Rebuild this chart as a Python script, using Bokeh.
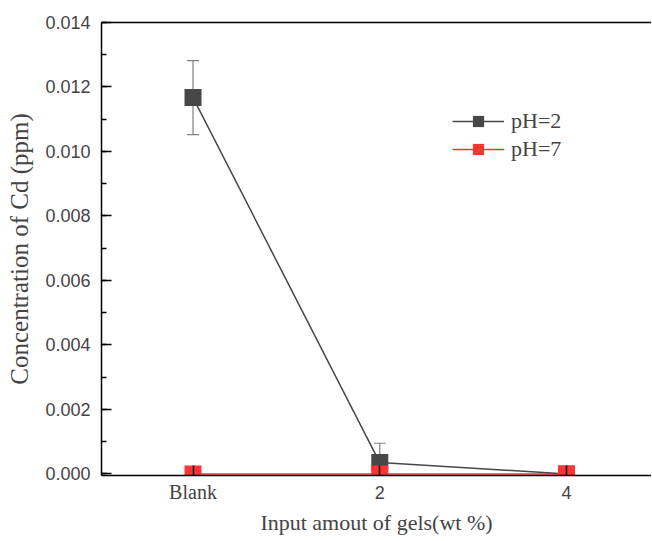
from bokeh.plotting import figure
from bokeh.models import (ColumnDataSource, Whisker, TeeHead, LinearAxis, FixedTicker,
                          SingleIntervalTicker, Range1d, Legend, LegendItem,
                          CustomJSTickFormatter)
from bokeh.embed import file_html
from bokeh.resources import INLINE

categories = ["Blank", "2", "4"]
x_pos = [0, 1, 2]
ph2_values = [0.01167, 0.00035, 0.0]
ph2_err = [0.00115, 0.0006, 0.00002]
ph7_values = [0.0, 0.0, 0.0]
ph7_err = [0.00003, 0.00003, 0.00003]

serif = "Liberation Serif"
sans = "Liberation Sans"

p = figure(width=651, height=540, output_backend="svg", toolbar_location=None,
           x_range=Range1d(-0.49, 2.455), y_range=Range1d(-0.00005, 0.014),
           min_border_left=101, min_border_right=0, min_border_top=22, min_border_bottom=65,
           x_axis_type=None, y_axis_type=None)
p.outline_line_color = None
p.xgrid.visible = False
p.ygrid.visible = False
p.background_fill_color = "white"
p.border_fill_color = "white"

# main x axis: line, inward ticks, numeric labels in sans
xaxis = LinearAxis(ticker=FixedTicker(ticks=x_pos),
                   major_label_overrides={0: "", 1: categories[1], 2: categories[2]})
xaxis.major_label_text_font = sans
xaxis.major_label_text_font_size = "18px"
xaxis.major_label_standoff = 10
xaxis.major_tick_in = 10
xaxis.major_tick_out = 0
xaxis.minor_tick_line_color = None
xaxis.axis_line_width = 1.5
xaxis.major_tick_line_width = 1.5
p.add_layout(xaxis, "below")

# second x axis carrying the serif "Blank" label and the axis title
xaxis2 = LinearAxis(ticker=FixedTicker(ticks=[x_pos[0]]),
                    major_label_overrides={0: categories[0]})
xaxis2.axis_line_color = None
xaxis2.major_tick_line_color = None
xaxis2.minor_tick_line_color = None
xaxis2.major_tick_in = 0
xaxis2.major_tick_out = 0
xaxis2.major_label_text_font = serif
xaxis2.major_label_text_font_size = "20px"
xaxis2.major_label_standoff = -21
xaxis2.axis_label = "Input amout of gels(wt %)"
xaxis2.axis_label_text_font = serif
xaxis2.axis_label_text_font_style = "normal"
xaxis2.axis_label_text_font_size = "22px"
xaxis2.axis_label_standoff = 4
p.add_layout(xaxis2, "below")

yaxis = LinearAxis(ticker=SingleIntervalTicker(interval=0.002, num_minor_ticks=2))
yaxis.axis_label = "Concentration of Cd (ppm)"
yaxis.axis_label_text_font = serif
yaxis.axis_label_text_font_style = "normal"
yaxis.axis_label_text_font_size = "25px"
yaxis.axis_label_standoff = 9
yaxis.major_label_text_font = sans
yaxis.major_label_text_font_size = "18px"
yaxis.major_label_standoff = 11
yaxis.major_tick_in = 10
yaxis.major_tick_out = 0
yaxis.minor_tick_in = 5
yaxis.minor_tick_out = 0
yaxis.axis_line_width = 1.5
yaxis.major_tick_line_width = 1.5
yaxis.minor_tick_line_width = 1.5
yaxis.formatter = CustomJSTickFormatter(code="return tick.toFixed(3);")
p.add_layout(yaxis, "left")

top = LinearAxis(ticker=FixedTicker(ticks=[]), major_tick_line_color=None,
                 minor_tick_line_color=None, axis_line_width=1.5)
p.add_layout(top, "above")

# data sources
src2 = ColumnDataSource(dict(x=x_pos, y=ph2_values,
                             upper=[v + e for v, e in zip(ph2_values, ph2_err)],
                             lower=[v - e for v, e in zip(ph2_values, ph2_err)]))
src7 = ColumnDataSource(dict(x=x_pos, y=ph7_values,
                             upper=[v + e for v, e in zip(ph7_values, ph7_err)],
                             lower=[v - e for v, e in zip(ph7_values, ph7_err)]))

c2 = "#474747"
c7 = "#ff3333"

w2 = Whisker(source=src2, base="x", upper="upper", lower="lower",
             line_color="#808080", line_width=1.2, level="underlay",
             upper_head=TeeHead(size=12, line_color="#808080", line_width=1.2),
             lower_head=TeeHead(size=12, line_color="#808080", line_width=1.2))
p.add_layout(w2)

l7 = p.line("x", "y", source=src7, line_color=c7, line_width=1.5)
l2 = p.line("x", "y", source=src2, line_color=c2, line_width=1.5)
m2 = p.scatter("x", "y", source=src2, marker="square", size=17, fill_color=c2, line_color=None)
m7 = p.scatter("x", "y", source=src7, marker="square", size=17, fill_color=c7, line_color=None)

w7 = Whisker(source=src7, base="x", upper="upper", lower="lower",
             line_color="black", line_width=1,
             upper_head=TeeHead(size=8, line_color="black", line_width=1),
             lower_head=TeeHead(size=8, line_color="black", line_width=1))
p.add_layout(w7)

legend = Legend(items=[LegendItem(label="pH=2", renderers=[l2, m2]),
                       LegendItem(label="pH=7", renderers=[l7, m7])],
                location=(351, 312))
legend.label_text_font = serif
legend.label_text_font_size = "22px"
legend.glyph_width = 52
legend.glyph_height = 28
legend.label_height = 28
legend.spacing = 0
legend.padding = 0
legend.margin = 0
legend.label_standoff = 7
legend.border_line_color = None
legend.background_fill_alpha = 0
p.add_layout(legend)

open("out.html", "w").write(file_html(p, INLINE))
